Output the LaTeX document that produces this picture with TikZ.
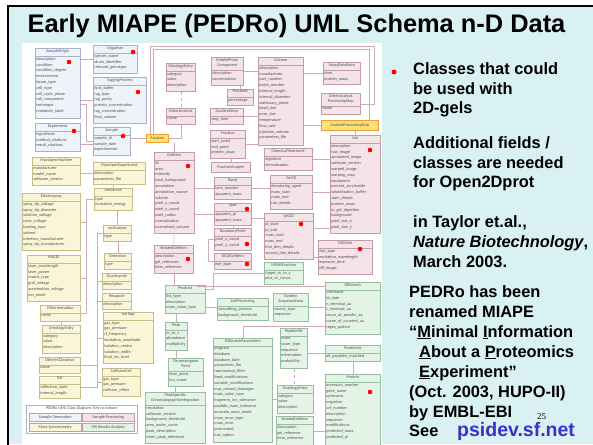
\documentclass[tikz,border=0pt]{standalone}
\usepackage{fontspec}
\setmainfont{Liberation Sans}
\newfontfamily\umlface{Carlito}
\newfontfamily\numface{Liberation Serif}
\usetikzlibrary{calc}

\definecolor{slidebg}{HTML}{DAF1F3}
\definecolor{sgf}{HTML}{EEF3FA}\definecolor{sgb}{HTML}{A9B2CC}
\definecolor{spf}{HTML}{F4E3E7}\definecolor{spb}{HTML}{C39CA7}
\definecolor{msf}{HTML}{FAF5D6}\definecolor{msb}{HTML}{C8BC88}
\definecolor{raf}{HTML}{E3F4E6}\definecolor{rab}{HTML}{96BE9F}
\definecolor{anf}{HTML}{FFE277}\definecolor{anb}{HTML}{F0A030}
\definecolor{wirec}{HTML}{D3A9B6}
\definecolor{umltext}{HTML}{505050}
\definecolor{linkblue}{HTML}{3434C8}

\newcommand\umlfont{\umlface\fontsize{4.2}{5.8}\selectfont}

% UML class: [header height]{name}{x,y}{width}{height}{colour style}{title}{attributes}
\newcommand\umlc[8][8]{%
  \node[box,#6,minimum width=#4pt,minimum height=#5pt,anchor=north west] (#2) at (#3) {};
  \node[hdr,anchor=north] at (#2.north) {#7};
  \draw[#6,fill=none,line width=0.4pt] ([yshift=-#1pt]#2.north west) -- ([yshift=-#1pt]#2.north east);
  \node[att,anchor=north west] at ([yshift=-#1pt]#2.north west) {#8};
}

\tikzset{
  box/.style={rectangle, inner sep=0pt, line width=0.5pt},
  sg/.style={draw=sgb, fill=sgf},
  sp/.style={draw=spb, fill=spf},
  ms/.style={draw=msb, fill=msf},
  ra/.style={draw=rab, fill=raf},
  an/.style={draw=anb, fill=anf},
  hdr/.style={font=\umlfont, text=umltext, inner sep=1pt, align=center},
  att/.style={font=\umlfont, text=umltext, inner sep=1.2pt, align=left},
  plain/.style={box, font=\umlfont, text=umltext, anchor=north west},
  wire/.style={draw=wirec, line width=0.5pt},
  rdot/.style={fill=red},
  rt/.style={anchor=base west, inner sep=0pt, font=\fontsize{16.4}{19.7}\selectfont\bfseries},
}

\begin{document}
\begin{tikzpicture}[x=1pt,y=-1pt]
\useasboundingbox (0,0) rectangle (593,444);
% slide background and frame
\fill[white] (0,0) rectangle (593,444);
\fill[slidebg] (8,6) rectangle (593,444);
\draw[black,line width=2.3pt] (8,446) -- (8,6) -- (595,6);

% title
\node[anchor=base,inner sep=0pt,font=\fontsize{25.4}{30}\selectfont\bfseries] (title) at (296.5,33) {Early MIAPE (PEDRo) UML Schema n-D Data};

% diagram panel
\fill[white] (22,43) rectangle (382,444);

% ---------------- Sample generation
\umlc{SampleOrigin}{35,48}{45}{70}{sg}{SampleOrigin}{description\\condition\\condition\_degree\\environment\\tissue\_type\\cell\_type\\cell\_cycle\_phase\\cell\_component\\technique\\metabolic\_label}
\umlc{Organism}{93,45}{44}{28}{sg}{Organism}{species\_name\\strain\_identifier\\relevant\_genotype}
\umlc{TaggingProcess}{93,77}{53}{46}{sg}{TaggingProcess}{lysis\_buffer\\tag\_type\\tag\_purity\\protein\_concentration\\tag\_concentration\\final\_volume}
\umlc{Experiment}{35,123}{45}{28}{sg}{Experiment}{hypothesis\\method\_citations\\result\_citations}
\umlc{Sample}{93,127}{37}{28}{sg}{Sample}{sample\_id\\sample\_date\\experimenter}
\node[plain,an,minimum width=22pt,minimum height=8pt] (Analysis) at (146,134) {Analysis};

% ---------------- Sample processing
\umlc{oeA}{166,63}{29}{28}{sp}{OntologyEntry}{category\\value\\description}
\umlc{OtherAnalysis}{166,108}{29}{16}{sp}{OtherAnalysis}{name}
\umlc[13]{MPC}{211,57}{32}{28}{sp}{MobilePhase\\Component}{description\\concentration}
\umlc{Column}{258,57}{45}{88}{sp}{Column}{description\\manufacturer\\part\_number\\batch\_number\\internal\_length\\internal\_diameter\\stationary\_phase\\bead\_size\\pore\_size\\temperature\\flow\_rate\\injection\_volume\\parameters\_file}
\umlc{AssayDataPoint}{323,62}{37}{22}{sp}{AssayDataPoint}{time\\protein\_assay}
\umlc{PercentX}{227,89}{26}{16}{sp}{PercentX}{percentage}
\umlc{GradientStep}{210,108}{33}{16}{sp}{GradientStep}{step\_time}
\umlc[13]{OtherAPS}{321,93}{39}{21}{sp}{OtherAnalysis\\ProcessingStep}{name}
\node[plain,an,minimum width=57pt,minimum height=10pt] (APS) at (321,120) {AnalyteProcessingStep};
\umlc{Fraction}{210,130}{35}{28}{sp}{Fraction}{start\_point\\end\_point\\protein\_assay}
\umlc{ChemT}{264,148}{48}{22}{sp}{ChemicalTreatment}{digestion\\derivatisation}
\umlc{Gel}{330,135}{50}{98}{sp}{Gel}{description\\raw\_image\\annotated\_image\\software\_version\\warped\_image\\warping\_map\\equipment\\percent\_acrylamide\\solubilization\_buffer\\stain\_details\\protein\_assay\\in\_gel\_digestion\\background\\pixel\_size\_x\\pixel\_size\_y}
\node[plain,sp,minimum width=39pt,minimum height=10pt] (FA) at (211,162) {FractionAnalyte};
\umlc{GelItem}{154,152}{40}{81}{sp}{GelItem}{id\\area\\intensity\\local\_background\\annotation\\annotation\_source\\volume\\pixel\_x\_coord\\pixel\_y\_coord\\pixel\_radius\\normalisation\\normalised\_volume}
\umlc{Band}{214,177}{37}{22}{sp}{Band}{lane\_number\\apparent\_mass}
\umlc{Gel1D}{270,175}{42}{34}{sp}{Gel1D}{denaturing\_agent\\mass\_start\\mass\_end\\run\_details}
\umlc{Spot}{214,203}{37}{22}{sp}{Spot}{apparent\_pi\\apparent\_mass}
\umlc{Gel2D}{264,213}{49}{46}{sp}{Gel2D}{pi\_start\\pi\_end\\mass\_start\\mass\_end\\first\_dim\_details\\second\_dim\_details}
\umlc{BoundaryPoint}{214,228}{37}{22}{sp}{BoundaryPoint}{pixel\_x\_coord\\pixel\_y\_coord}
\umlc{DiGEGelItem}{214,253}{37}{16}{sp}{DiGEGelItem}{dye\_type}
\umlc{DIGEGel}{318,240}{54}{34}{sp}{DIGEGel}{dye\_type\\excitation\_wavelength\\exposure\_time\\tiff\_image}
\umlc{rgiA}{154,245}{39}{28}{sp}{RelatedGelItem}{description\\gel\_reference\\item\_reference}

% ---------------- Mass spectrometry
\umlc{MSM}{32,157}{48}{28}{ms}{MassSpecMachine}{manufacturer\\model\_name\\software\_version}
\umlc{MSE}{93,162}{52}{22}{ms}{MassSpecExperiment}{description\\parameters\_file}
\umlc{IonSource}{94,188}{38}{22}{ms}{IonSource}{type\\ionisation\_energy}
\umlc{Electrospray}{22,193}{58}{57}{ms}{Electrospray}{spray\_tip\_voltage\\spray\_tip\_diameter\\solution\_voltage\\cone\_voltage\\loading\_type\\solvent\\interface\_manufacturer\\spray\_tip\_manufacturer}
\umlc{mzAnalysis}{103,225}{28}{16}{ms}{mzAnalysis}{type}
\umlc{Detection}{104,253}{27}{16}{ms}{Detection}{type}
\umlc{MALDI}{27,255}{53}{46}{ms}{MALDI}{laser\_wavelength\\laser\_power\\matrix\_type\\grid\_voltage\\acceleration\_voltage\\ion\_mode}
\umlc{Quadrupole}{102,273}{29}{16}{ms}{Quadrupole}{description}
\umlc{Hexapole}{102,293}{29}{16}{ms}{Hexapole}{description}
\umlc{OtherIon}{40,305}{40}{16}{ms}{OtherIonisation}{name}
\umlc{oeB}{42,325}{38}{28}{ms}{OntologyEntry}{category\\value\\description}
\umlc{OtherMZ}{39,357}{41}{16}{ms}{OtherMZAnalysis}{name}
\umlc{ToF}{39,376}{41}{22}{ms}{ToF}{reflectron\_state\\internal\_length}
\umlc{IonTrap}{103,312}{50}{51}{ms}{IonTrap}{gas\_type\\gas\_pressure\\rf\_frequency\\excitation\_amplitude\\isolation\_centre\\isolation\_width\\final\_ms\_level}
\umlc{CollisionCell}{102,368}{38}{28}{ms}{CollisionCell}{gas\_type\\gas\_pressure\\collision\_offset}

% ---------------- MS results analysis
\umlc{PeakList}{165,285}{40}{28}{ra}{PeakList}{list\_type\\description\\mass\_value\_type}
\umlc{Peak}{165,322}{22}{28}{ra}{Peak}{m\_to\_z\\abundance\\multiplicity}
\umlc[13]{CP}{168,358}{35}{28}{ra}{Chromatogram\\Point}{time\_point\\ion\_count}
\umlc[13]{PSCI}{145,392}{60}{51}{ra}{PeakSpecific\\ChromatographicIntegration}{resolution\\software\_version\\background\_threshold\\area\_under\_curve\\peak\_description\\sister\_peak\_reference}
\umlc{MSMS}{264,262}{39}{22}{ra}{MSMSFraction}{target\_m\_to\_z\\plus\_or\_minus}
\umlc{ListProc}{217,298}{51}{22}{ra}{ListProcessing}{smoothing\_process\\background\_threshold}
\umlc[13]{TSD}{273,293}{35}{28}{ra}{Tandem\\SequenceData}{source\_type\\sequence}
\umlc{DBSearch}{325,282}{55}{52}{ra}{DBSearch}{username\\id\_date\\n\_terminal\_aa\\c\_terminal\_aa\\count\_of\_specific\_aa\\name\_of\_counted\_aa\\regex\_pattern}
\umlc{DBSP}{213,338}{59}{104}{ra}{DBSearchParameters}{program\\database\\database\_date\\parameters\_file\\taxonomical\_filter\\fixed\_modifications\\variable\_modifications\\max\_missed\_cleavages\\mass\_value\_type\\fragment\_ion\_tolerance\\peptide\_mass\_tolerance\\accurate\_mass\_mode\\mass\_error\_type\\mass\_error\\protonated\\icat\_option}
\umlc{PeptideHit}{280,328}{27}{40}{ra}{PeptideHit}{score\\score\_type\\sequence\\information\\probability}
\umlc{ProteinHit}{325,345}{55}{16}{ra}{ProteinHit}{all\_peptides\_matched}
\umlc{oeC}{277,385}{36}{28}{ra}{OntologyEntry}{category\\value\\description}
\umlc{Protein}{325,374}{55}{72}{ra}{Protein}{accession\_number\\gene\_name\\synonyms\\organism\\orf\_number\\description\\sequence\\modifications\\predicted\_mass\\predicted\_pi}
\umlc{rgiB}{276,416}{37}{30}{ra}{RelatedGelItem}{description\\gel\_reference\\item\_reference}

% ---------------- associations
\begin{scope}[wire]
\draw (SampleOrigin.east |- Organism.west) -- (Organism.west);
\draw (SampleOrigin.east |- TaggingProcess.west) -- (TaggingProcess.west);
\draw ([yshift=-56pt]SampleOrigin.north east) -| ([xshift=6pt]SampleOrigin.east |- Sample.west) -- (Sample.west);
\draw ([yshift=7pt]Experiment.south east) -- ([yshift=7pt]Experiment.south east -| Sample.west);
\draw (Sample.east |- Analysis.west) -- (Analysis.west);
\coordinate (fr1) at (374,46);
\coordinate (fr2) at (369,49);
\draw ([xshift=-7pt]Analysis.north) |- (fr1) |- (OtherAPS.east);
\draw ([xshift=-4pt]Analysis.north) |- (fr2) -- (fr2 |- APS.north);
\draw (Analysis.east) -| (OtherAnalysis.south);
\draw[dashed] (oeA.south) -- (OtherAnalysis.north);
\draw (MPC.east) -- (MPC.east -| Column.west);
\draw (PercentX.north) -- (PercentX.north |- MPC.south);
\draw (GradientStep.east) -- (GradientStep.east -| Column.west);
\draw (Fraction.east) -- (Fraction.east -| Column.west);
\draw (AssayDataPoint.west) -- (AssayDataPoint.west -| Column.east);
\draw (APS.west) -- (APS.west -| Column.east);
\draw (ChemT.east) -- (ChemT.east -| Gel.west);
\draw (FA.north) -- (FA.north |- Fraction.south);
\draw (Gel.north) -- (Gel.north |- APS.south);
\draw (GelItem.east |- Band.west) -- (Band.west);
\draw (GelItem.east |- Spot.west) -- (Spot.west);
\draw (BoundaryPoint.north) -- (Spot.south);
\draw (DiGEGelItem.west) -| ([xshift=-6pt]BoundaryPoint.west) |- (BoundaryPoint.west);
\draw (Band.east) -- (Band.east -| Gel1D.west);
\draw ([yshift=-4pt]Spot.east) -- ([yshift=-4pt]Spot.east -| Gel2D.west);
\draw (Gel1D.east) -- (Gel1D.east -| Gel.west);
\draw ([yshift=8pt]Gel2D.east) -- ([yshift=8pt]Gel2D.east -| Gel.west);
\draw (DIGEGel.west) -- (DIGEGel.west -| Gel2D.east);
\draw (GelItem.south) -- (rgiA.north);
\draw (GelItem.north) -- (GelItem.north |- Analysis.south);
% mass spectrometry
\draw (MSM.east |- MSE.west) -- (MSE.west);
\draw (IonSource.north) -- (IonSource.north |- MSE.south);
\draw (mzAnalysis.north |- IonSource.south) -- (mzAnalysis.north);
\draw (Detection.north |- mzAnalysis.south) -- (Detection.north);
\draw (Electrospray.east) -| ([xshift=6pt]Electrospray.east |- IonSource.west) -- (IonSource.west);
\draw (MALDI.east) -| ([xshift=6pt]Electrospray.east |- IonSource.west);
\draw (OtherIon.east) -| ([xshift=6pt]Electrospray.east |- IonSource.west);
\draw[dashed] (oeB.north) -- (oeB.north |- OtherIon.south);
\draw ([xshift=-6pt]mzAnalysis.west) -- (mzAnalysis.west);
\draw (Quadrupole.west) -| ([xshift=-6pt]mzAnalysis.west);
\draw (Hexapole.west) -| ([xshift=-6pt]mzAnalysis.west);
\draw (IonTrap.west) -| ([xshift=-6pt]mzAnalysis.west);
\draw (CollisionCell.west) -| ([xshift=-6pt]mzAnalysis.west);
\draw (ToF.east) -| ([xshift=-6pt]mzAnalysis.west);
\draw (OtherMZ.east) -| ([xshift=-6pt]mzAnalysis.west);
% results analysis
\draw (rgiA.south) -- (rgiA.south |- PeakList.north);
\draw (Peak.north) -- (Peak.north |- PeakList.south);
\draw (Peak.south) -- (Peak.south |- CP.north);
\draw (PSCI.north) -- (PSCI.north |- CP.south);
\draw ([yshift=-4pt]PeakList.north east) -- ++(8,0) |- (MSMS.west);
\draw ([yshift=-8pt]PeakList.east) -- ([yshift=-8pt]PeakList.east -| ListProc.west);
\draw (TSD.east) -- (TSD.east -| DBSearch.west);
\draw ([xshift=-8pt]PeakList.north east) |- ([yshift=-4pt]DBSearch.north west);
\draw (DBSP.north) |- ([yshift=8pt]DBSearch.south west);
\draw (PeptideHit.east |- ProteinHit.west) -- (ProteinHit.west);
\draw (Protein.north) -- (Protein.north |- ProteinHit.south);
\draw[dashed] (PeptideHit.south) -- (PeptideHit.south |- oeC.north);
\draw (DBSP.east |- oeC.west) -- (oeC.west);
\draw (rgiB.east) -- (rgiB.east -| Protein.west);
\end{scope}

% colour key
\node[box,draw=sgb,fill=white,minimum width=111pt,minimum height=28pt,anchor=north west] (key) at (26,405) {};
\node[hdr,anchor=north] (keyt) at (key.north) {PEDRo UML Class Diagram: Key to colours};
\node[plain,sg,draw=spb,minimum width=52pt,minimum height=8pt,align=center] (k1) at (29,413) {Sample Generation};
\node[plain,sp,minimum width=52pt,minimum height=8pt,align=center] (k2) at (82,413) {Sample Processing};
\node[plain,ms,draw=spb,minimum width=52pt,minimum height=8pt,align=center] (k3) at (29,423) {Mass Spectrometry};
\node[plain,ra,draw=spb,minimum width=52pt,minimum height=8pt,align=center] (k4) at (82,423) {MS Results Analysis};

% classes usable with 2D gels
\foreach \p in {(69,62),(133,52),(138,92),(74,131),(123,136),(188,166),(370,150),(188,259),(247,209),(301,224),(247,244),(247,264),(360,249),(370,392)}
  \fill[rdot] \p circle (2.3pt);

% side text
\fill[rdot] (394,72) circle (2.5pt);
\node[rt] (t1) at (413,74.3) {Classes that could};
\node[rt] (t2) at (413,94) {be used with};
\node[rt] (t3) at (413,113.7) {2D-gels};
\node[rt] (t4) at (413,148.4) {Additional fields /};
\node[rt] (t5) at (413,168) {classes are needed};
\node[rt] (t6) at (413,187.5) {for Open2Dprot};
\node[rt] (t7) at (413,227) {in Taylor et.al.,};
\node[rt] (t8) at (413,247) {\itshape Nature Biotechnology\upshape,};
\node[rt] (t9) at (413,267) {March 2003.};
\node[rt] (t10) at (409,297) {PEDRo has been};
\node[rt] (t11) at (409,317) {renamed MIAPE};
\node[rt] (t12) at (409,337) {“\underline{M}inimal \underline{I}nformation};
\node[rt] (t13) at (419,357) {\underline{A}bout a \underline{P}roteomics};
\node[rt] (t14) at (419,377) {\underline{E}xperiment”};
\node[rt] (t15) at (409,397) {(Oct. 2003, HUPO-II)};
\node[rt] (t16) at (409,417) {by EMBL-EBI};
\node[rt] (t17) at (409,436) {See};
\node[rt,font=\fontsize{19.5}{23}\selectfont\bfseries,text=linkblue] (t18) at (457,436) {psidev.sf.net};
\node[anchor=base west,inner sep=0pt,font=\numface\fontsize{9}{11}\selectfont] (pgno) at (537,419) {25};
\end{tikzpicture}
\end{document}
